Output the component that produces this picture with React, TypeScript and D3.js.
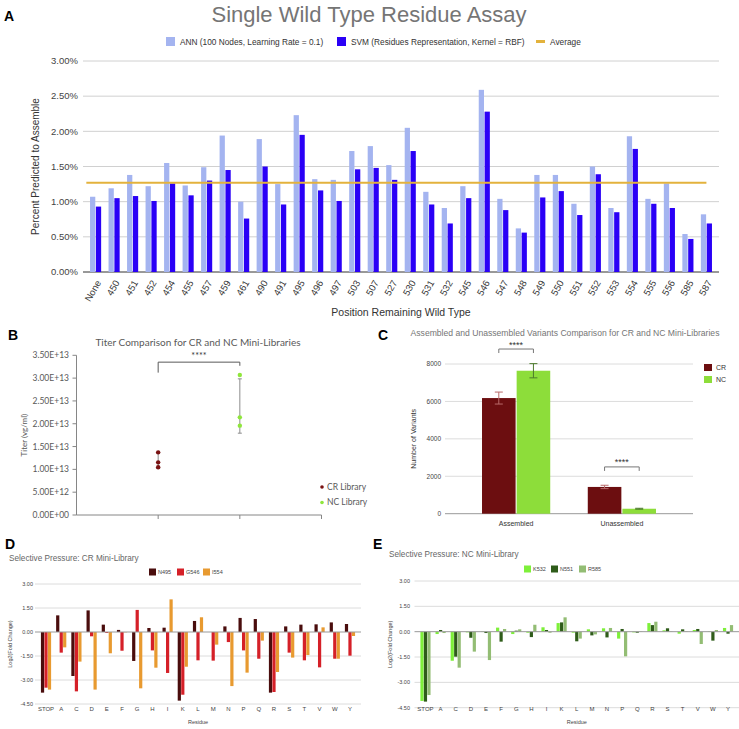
import * as d3 from 'd3';

// Panel A: single wild type residue assay (values in %)
const POSITIONS = ['None', '450', '451', '452', '454', '455', '457', '459', '461', '490', '491', '495', '496', '497', '503', '507', '527', '530', '531', '532', '545', '546', '547', '548', '549', '550', '551', '552', '553', '554', '555', '556', '585', '587'];
const ANN_VALUES = [1.07, 1.19, 1.38, 1.22, 1.55, 1.23, 1.49, 1.94, 1.0, 1.89, 1.25, 2.23, 1.32, 1.31, 1.72, 1.79, 1.52, 2.05, 1.14, 0.91, 1.22, 2.59, 1.04, 0.62, 1.38, 1.38, 0.97, 1.5, 0.91, 1.93, 1.04, 1.26, 0.54, 0.82];
const SVM_VALUES = [0.93, 1.05, 1.08, 1.01, 1.26, 1.09, 1.3, 1.45, 0.76, 1.5, 0.96, 1.95, 1.16, 1.01, 1.46, 1.48, 1.31, 1.72, 0.96, 0.69, 1.05, 2.28, 0.88, 0.56, 1.06, 1.15, 0.81, 1.39, 0.85, 1.75, 0.97, 0.91, 0.47, 0.69];
const AVERAGE = 1.27;
const A_TICKS = [0, 0.5, 1, 1.5, 2, 2.5, 3];

// Panel B: titers
const CR_TITERS = [1.373e13, 1.154e13, 1.045e13];
const NC_TITERS = [3.068e13, 2.14e13, 1.958e13];
const B_TICKS = [0, 5e12, 1e13, 1.5e13, 2e13, 2.5e13, 3e13, 3.5e13];
const B_TICK_LABELS = ['0.00E+00', '5.00E+12', '1.00E+13', '1.50E+13', '2.00E+13', '2.50E+13', '3.00E+13', '3.50E+13'];

// Panel C: assembled / unassembled variants
const C_GROUPS = ['Assembled', 'Unassembled'];
const CR_VARIANTS = [6180, 1430];
const NC_VARIANTS = [7640, 265];
const CR_VARIANT_ERR = [320, 90];
const NC_VARIANT_ERR = [380, 25];
const C_TICKS = [0, 2000, 4000, 6000, 8000];

// Panels D / E: selective pressure
const RESIDUES = ['STOP', 'A', 'C', 'D', 'E', 'F', 'G', 'H', 'I', 'K', 'L', 'M', 'N', 'P', 'Q', 'R', 'S', 'T', 'V', 'W', 'Y'];
const N495 = [-3.79, 1.04, -2.75, 1.35, 0.46, 0.13, -1.81, 0.25, 0.27, -4.29, 0.69, 0, 0.35, 0.88, 0.81, -3.79, 0.35, 0.46, 0.48, 0.6, 0.5];
const G546 = [-3.48, -1.29, -3.71, -0.27, -0.06, -1.17, 1.38, -1.15, -2.56, -3.92, -1.77, -1.79, -0.63, -1.15, -1.67, -3.75, -1.29, -1.77, -2.21, -1.67, -1.48];
const I554 = [-3.6, -0.96, -1.85, -3.6, -1.33, -0.02, -3.52, -2.23, 2.04, -2.17, 0.92, -0.79, -3.38, -2.54, -0.54, -2.5, -1.6, -1.44, 0.29, -1.67, -0.25];
const K532 = [-4.1, -0.14, -1.72, -0.04, -0.02, 0.24, -0.14, -0.06, 0.26, 0.51, -0.06, 0.14, 0.2, -0.41, -0.04, 0.51, 0.08, -0.12, 0.1, 0.02, 0.22];
const N551 = [-4.14, 0.1, -1.48, -0.36, -0.08, -0.59, 0.06, -0.32, 0.1, 0.55, -0.57, -0.22, -0.34, 0.16, -0.06, 0.39, 0.2, 0.14, 0.16, -0.53, -0.12];
const R585 = [-3.75, -0.08, -2.13, -1.18, -1.68, 0.16, 0.14, 0.41, -0.06, 0.85, -0.41, -0.16, 0.22, -1.46, 0.02, 0.59, 0.02, 0.02, -0.73, 0.1, 0.39];
const FC_TICKS = [-4.5, -3, -1.5, 0, 1.5, 3];

const ARIAL = '"Liberation Sans", Arial, sans-serif';
const CALIBRI = 'Lato, "Open Sans", sans-serif';

function PanelLetter({ x, y, label }: { x: number; y: number; label: string }) {
  return (
    <text x={x} y={y} fontFamily={ARIAL} fontWeight={700} fontSize={14} fill="#000">{label}</text>
  );
}

function PanelA() {
  const top = 61, bottom = 272, left = 83, right = 719;
  const y = d3.scaleLinear().domain([0, 3]).range([bottom, top]);
  const x = d3.scaleBand<string>().domain(POSITIONS).range([left, right]).paddingInner(0.4).paddingOuter(0.38);
  const sub = d3.scaleBand<string>().domain(['ann', 'svm']).range([0, x.bandwidth()]).paddingInner(0.1);
  const avgX0 = x(POSITIONS[0])! - x.step() * 0.2;
  const avgX1 = x(POSITIONS[POSITIONS.length - 1])! + x.bandwidth() / 2;

  return (
    <g fontFamily={ARIAL}>
      <PanelLetter x={4} y={21} label="A" />
      <text x={369} y={22} textAnchor="middle" fontSize={22} fill="#757575">Single Wild Type Residue Assay</text>

      {/* legend */}
      <rect x={166} y={37} width={9} height={9} fill="#a4b4f0" />
      <text x={180} y={45} fontSize={8.3} fill="#333">ANN (100 Nodes, Learning Rate = 0.1)</text>
      <rect x={337} y={37} width={9} height={9} fill="#2a00f6" />
      <text x={351} y={45} fontSize={8.3} fill="#333">SVM (Residues Representation, Kernel = RBF)</text>
      <line x1={536} x2={545} y1={41.5} y2={41.5} stroke="#e3b23c" strokeWidth={3} />
      <text x={550} y={45} fontSize={8.3} fill="#333">Average</text>

      {A_TICKS.map(t => (
        <g key={t}>
          <line x1={left} x2={right} y1={y(t)} y2={y(t)} stroke={t === 0 ? '#333' : '#d0d0d0'} />
          <text x={78} y={y(t)} dy="0.35em" textAnchor="end" fontSize={9.5} fill="#444">{t.toFixed(2)}%</text>
        </g>
      ))}

      {POSITIONS.map((p, i) => (
        <g key={p}>
          <rect x={x(p)! + sub('ann')!} y={y(ANN_VALUES[i])} width={sub.bandwidth()} height={y(0) - y(ANN_VALUES[i])} fill="#a4b4f0" />
          <rect x={x(p)! + sub('svm')!} y={y(SVM_VALUES[i])} width={sub.bandwidth()} height={y(0) - y(SVM_VALUES[i])} fill="#2a00f6" />
          <text
            transform={`translate(${x(p)! + x.bandwidth() / 2 + 3},${bottom + 9}) rotate(-60)`}
            textAnchor="end" dy="0.35em" fontSize={9.5} fill="#333"
          >{p}</text>
        </g>
      ))}

      <line x1={avgX0} x2={avgX1} y1={y(AVERAGE)} y2={y(AVERAGE)} stroke="#e3b23c" strokeWidth={2} />

      <text transform={`translate(39,${(top + bottom) / 2}) rotate(-90)`} textAnchor="middle" fontSize={10} fill="#333">Percent Predicted to Assemble</text>
      <text x={401} y={316} textAnchor="middle" fontSize={10.5} fill="#333">Position Remaining Wild Type</text>
    </g>
  );
}

function PanelB() {
  const top = 355.3, bottom = 515, left = 76.5, right = 321.5;
  const y = d3.scaleLinear().domain([0, 3.5e13]).range([bottom, top]);
  const x = d3.scaleLinear().domain([0, 3]).range([left, right]);
  const series = [
    { name: 'CR Library', pos: 1, values: CR_TITERS, color: '#7a1212' },
    { name: 'NC Library', pos: 2, values: NC_TITERS, color: '#8fe63c' },
  ];
  return (
    <g fontFamily={CALIBRI}>
      <PanelLetter x={8} y={340} label="B" />
      <text x={198} y={346} textAnchor="middle" fontSize={10} fill="#595959">Titer Comparison for CR and NC Mini-Libraries</text>

      <line x1={left} x2={left} y1={top} y2={bottom} stroke="#868686" />
      <line x1={left} x2={right} y1={bottom} y2={bottom} stroke="#868686" />
      {B_TICKS.map((t, i) => (
        <g key={t}>
          <line x1={left - 4} x2={left} y1={y(t)} y2={y(t)} stroke="#868686" />
          <text x={69} y={y(t)} dy="0.35em" textAnchor="end" fontSize={8.5} fill="#595959">{B_TICK_LABELS[i]}</text>
        </g>
      ))}
      {[1, 2, 3].map(t => (
        <line key={t} x1={x(t)} x2={x(t)} y1={bottom} y2={bottom + 4} stroke="#868686" />
      ))}

      {series.map(s => {
        const m = d3.mean(s.values)!;
        const sd = d3.deviation(s.values)!;
        return (
          <g key={s.name}>
            <line x1={x(s.pos)} x2={x(s.pos)} y1={y(m + sd)} y2={y(m - sd)} stroke="#8c8c8c" />
            <line x1={x(s.pos) - 2} x2={x(s.pos) + 2} y1={y(m + sd)} y2={y(m + sd)} stroke="#8c8c8c" />
            <line x1={x(s.pos) - 2} x2={x(s.pos) + 2} y1={y(m - sd)} y2={y(m - sd)} stroke="#8c8c8c" />
            {s.values.map((v, i) => (
              <circle key={i} cx={x(s.pos)} cy={y(v)} r={2.2} fill={s.color} />
            ))}
          </g>
        );
      })}

      {/* significance bracket */}
      <path
        d={`M${x(1)},${y(3.12e13)} V${y(3.35e13)} H${x(2)} V${y(3.27e13)}`}
        fill="none" stroke="#595959" strokeWidth={1}
      />
      <text x={(x(1) + x(2)) / 2} y={359} textAnchor="middle" fontSize={9} fill="#333">****</text>

      <text transform={`translate(27,${(top + bottom) / 2}) rotate(-90)`} textAnchor="middle" fontSize={8} fill="#595959">Titer (vg/ml)</text>

      {series.map((s, i) => (
        <g key={s.name}>
          <circle cx={322} cy={487 + i * 15.5} r={1.8} fill={s.color} />
          <text x={327} y={487 + i * 15.5} dy="0.35em" fontSize={8.5} fill="#595959">{s.name}</text>
        </g>
      ))}
    </g>
  );
}

function PanelC() {
  const top = 364, bottom = 513.7, left = 445, right = 693;
  const y = d3.scaleLinear().domain([0, 8000]).range([bottom, top]);
  const x = d3.scaleBand<string>().domain(C_GROUPS).range([left, right]).paddingInner(0.355).paddingOuter(0.35);
  const sub = d3.scaleBand<string>().domain(['CR', 'NC']).range([0, x.bandwidth()]).paddingInner(0.03);
  const series = [
    { key: 'CR', values: CR_VARIANTS, err: CR_VARIANT_ERR, color: '#6c0e10', errColor: '#b86a6a' },
    { key: 'NC', values: NC_VARIANTS, err: NC_VARIANT_ERR, color: '#8ddd3a', errColor: '#4c7a2c' },
  ];
  const brackets = [
    { group: 'Assembled', level: 8800 },
    { group: 'Unassembled', level: 2500 },
  ];
  return (
    <g fontFamily={ARIAL}>
      <PanelLetter x={378} y={340} label="C" />
      <text x={565} y={336} textAnchor="middle" fontSize={8.6} fill="#757575">Assembled and Unassembled Variants Comparison for CR and NC Mini-Libraries</text>

      {C_TICKS.map(t => (
        <g key={t}>
          <line x1={left} x2={right} y1={y(t)} y2={y(t)} stroke={t === 0 ? '#999' : '#dcdcdc'} />
          <text x={441} y={y(t)} dy="0.35em" textAnchor="end" fontSize={6.5} fill="#444">{t}</text>
        </g>
      ))}

      {C_GROUPS.map((g, gi) => (
        <g key={g}>
          {series.map(s => {
            const bx = x(g)! + sub(s.key)!;
            const cx = bx + sub.bandwidth() / 2;
            const v = s.values[gi], e = s.err[gi];
            return (
              <g key={s.key}>
                <rect x={bx} y={y(v)} width={sub.bandwidth()} height={y(0) - y(v)} fill={s.color} />
                <line x1={cx} x2={cx} y1={y(v + e)} y2={y(v - e)} stroke={s.errColor} />
                <line x1={cx - 4} x2={cx + 4} y1={y(v + e)} y2={y(v + e)} stroke={s.errColor} />
                <line x1={cx - 4} x2={cx + 4} y1={y(v - e)} y2={y(v - e)} stroke={s.errColor} />
              </g>
            );
          })}
          <text x={x(g)! + x.bandwidth() / 2} y={526} textAnchor="middle" fontSize={7} fill="#333">{g}</text>
        </g>
      ))}

      {brackets.map(b => {
        const x0 = x(b.group)! + sub('CR')! + sub.bandwidth() / 2;
        const x1 = x(b.group)! + sub('NC')! + sub.bandwidth() / 2;
        const yy = y(b.level);
        return (
          <g key={b.group}>
            <path d={`M${x0},${yy + 4} V${yy} H${x1} V${yy + 4}`} fill="none" stroke="#777" />
            <text x={(x0 + x1) / 2} y={yy - 1.5} textAnchor="middle" fontSize={9} fill="#333">****</text>
          </g>
        );
      })}

      <text transform={`translate(416,${(top + bottom) / 2}) rotate(-90)`} textAnchor="middle" fontSize={7} fill="#333">Number of Variants</text>

      {series.map((s, i) => (
        <g key={s.key}>
          <rect x={704} y={364 + i * 12} width={8} height={7} fill={s.color} />
          <text x={716} y={367.5 + i * 12} dy="0.35em" fontSize={7} fill="#333">{s.key}</text>
        </g>
      ))}
    </g>
  );
}

interface PressureProps {
  letter: string;
  title: string;
  letterX: number;
  titleX: number;
  titleY: number;
  names: string[];
  values: number[][];
  colors: string[];
  top: number;
  bottom: number;
  left: number;
  right: number;
  tickX: number;
  axisTitleX: number;
  legendX: number[];
  legendY: number;
}

function PressurePanel(p: PressureProps) {
  const y = d3.scaleLinear().domain([-4.5, 3]).range([p.bottom, p.top]);
  const x = d3.scaleBand<string>().domain(RESIDUES).range([p.left, p.right]).paddingInner(0.33).paddingOuter(0.39);
  const sub = d3.scaleBand<string>().domain(p.names).range([0, x.bandwidth()]).paddingInner(0.08);
  return (
    <g fontFamily={ARIAL}>
      <PanelLetter x={p.letterX} y={549} label={p.letter} />
      <text x={p.titleX} y={p.titleY} fontSize={8.2} fill="#666">{p.title}</text>

      {p.names.map((n, i) => (
        <g key={n}>
          <rect x={p.legendX[i]} y={p.legendY - 3.5} width={7} height={7} fill={p.colors[i]} />
          <text x={p.legendX[i] + 9} y={p.legendY} dy="0.35em" fontSize={5.5} fill="#444">{n}</text>
        </g>
      ))}

      {FC_TICKS.filter(t => t !== 0).map(t => (
        <line key={t} x1={p.left} x2={p.right} y1={y(t)} y2={y(t)} stroke="#dcdcdc" />
      ))}
      {FC_TICKS.map(t => (
        <text key={t} x={p.tickX} y={y(t)} dy="0.35em" textAnchor="end" fontSize={5.5} fill="#444">{t.toFixed(2)}</text>
      ))}

      {RESIDUES.map((r, ri) => (
        <g key={r}>
          {p.names.map((n, si) => {
            const v = p.values[si][ri];
            return (
              <rect key={n} x={x(r)! + sub(n)!} y={y(Math.max(0, v))} width={sub.bandwidth()} height={Math.abs(y(v) - y(0))} fill={p.colors[si]} />
            );
          })}
          <text x={x(r)! + x.bandwidth() / 2} y={711} textAnchor="middle" fontSize={6} fill="#444">{r}</text>
        </g>
      ))}
      <line x1={p.left} x2={p.right} y1={y(0)} y2={y(0)} stroke="#999" />

      <text x={(p.left + p.right) / 2} y={724} textAnchor="middle" fontSize={5.5} fill="#444">Residue</text>
      <text transform={`translate(${p.axisTitleX},${(p.top + p.bottom) / 2}) rotate(-90)`} textAnchor="middle" fontSize={5.5} fill="#444">Log2(Fold Change)</text>
    </g>
  );
}

export default function App() {
  return (
    <svg width={739} height={729} style={{ position: 'absolute', left: 0, top: 0, background: '#fff' }}>
      <rect width={739} height={729} fill="#fff" />
      <PanelA />
      <PanelB />
      <PanelC />
      <PressurePanel
        letter="D" title="Selective Pressure: CR Mini-Library" letterX={5} titleX={9} titleY={561}
        names={['N495', 'G546', 'I554']} values={[N495, G546, I554]}
        colors={['#4a0d0d', '#d52028', '#e89a30']}
        top={584} bottom={704} left={35} right={361} tickX={33} axisTitleX={12}
        legendX={[149, 177, 203]} legendY={572}
      />
      <PressurePanel
        letter="E" title="Selective Pressure: NC Mini-Library" letterX={373} titleX={389} titleY={557}
        names={['K532', 'N551', 'R585']} values={[K532, N551, R585]}
        colors={['#7ef03a', '#2f5c1a', '#93bd74']}
        top={581} bottom={707.7} left={414.5} right={739} tickX={410} axisTitleX={392}
        legendX={[524, 551, 579]} legendY={569}
      />
    </svg>
  );
}
